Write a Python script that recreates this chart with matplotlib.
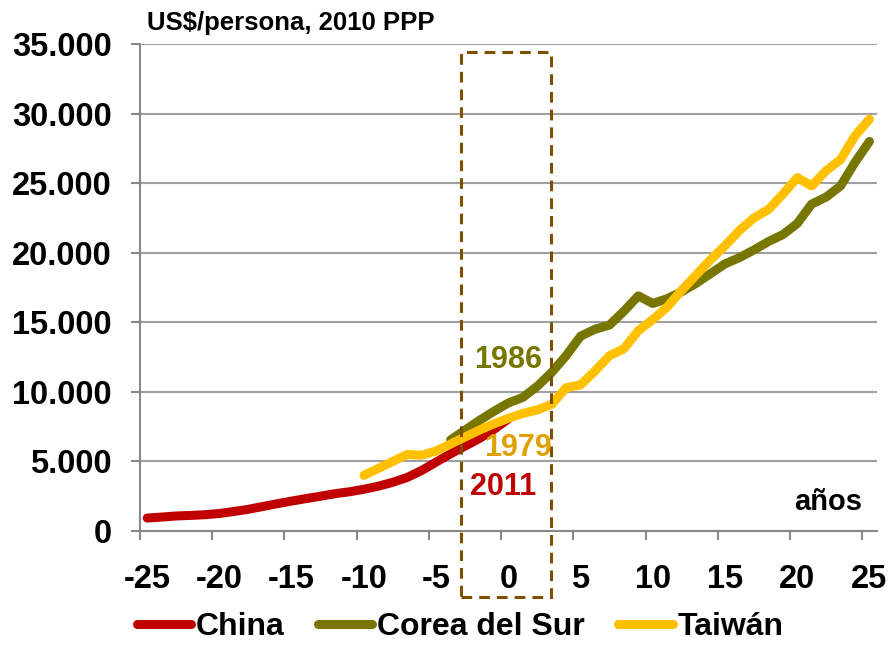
import matplotlib
matplotlib.use("Agg")
import matplotlib.pyplot as plt
from matplotlib.ticker import FixedLocator, FuncFormatter
from matplotlib.patches import Rectangle

plt.rcParams["font.family"] = ["Liberation Sans", "DejaVu Sans"]
plt.rcParams["font.weight"] = "bold"
plt.rcParams["axes.unicode_minus"] = False

# años relativos al punto de referencia (0 = 2011 China, 1979 Taiwán, 1986 Corea)
china_x = list(range(-25, 1))
china_y = [930, 1000, 1080, 1120, 1170, 1260, 1400, 1560, 1760, 1960,
           2150, 2330, 2500, 2680, 2820, 3000, 3220, 3500, 3850, 4350,
           4950, 5550, 6100, 6650, 7300, 8050]

corea_x = list(range(-4, 26))
corea_y = [6550, 7250, 7950, 8600, 9200, 9600, 10400, 11400, 12600, 14000,
           14500, 14800, 15800, 16900, 16350, 16700, 17200, 17800, 18500, 19200,
           19650, 20200, 20800, 21300, 22100, 23500, 24000, 24800, 26500, 28000]

taiwan_x = list(range(-10, 26))
taiwan_y = [4000, 4500, 5000, 5500, 5450, 5750, 6250, 6750, 7250, 7700,
            8100, 8450, 8700, 9100, 10300, 10500, 11500, 12600, 13100, 14400,
            15200, 16100, 17300, 18400, 19500, 20500, 21600, 22500, 23100, 24200,
            25400, 24800, 25900, 26700, 28400, 29600]

series = [
    ("China", china_x, china_y, "#C00000"),
    ("Corea del Sur", corea_x, corea_y, "#767600"),
    ("Taiwán", taiwan_x, taiwan_y, "#FFC000"),
]

annotations = [
    ("1986", 0.0, 12300, "#767600"),
    ("1979", 0.65, 6000, "#E0A000"),
    ("2011", -0.35, 3150, "#C00000"),
]

x_labels = list(range(-25, 26, 5))
y_ticks = list(range(0, 35001, 5000))

fig = plt.figure(figsize=(8.88, 6.45), dpi=100)
ax = fig.add_axes([140 / 888, 1 - 531 / 645, (876.7 - 140) / 888, (531 - 44) / 645])

for name, xs, ys, color in series:
    ax.plot(xs, ys, color=color, lw=6.5, label=name,
            solid_capstyle="round", solid_joinstyle="round", zorder=3)

ax.set_xlim(-25.5, 25.5)
ax.set_ylim(0, 35000)

# categorías con marcas entre ellas (estilo Excel)
ax.xaxis.set_major_locator(FixedLocator(x_labels))
ax.xaxis.set_minor_locator(FixedLocator([v - 0.5 for v in x_labels]))
ax.tick_params(axis="x", which="major", length=0, pad=24, labelsize=23.5)
ax.tick_params(axis="x", which="minor", length=6.5, width=1.5, color="#888888")
ax.set_yticks(y_ticks)
ax.yaxis.set_major_formatter(FuncFormatter(lambda v, p: f"{v:,.0f}".replace(",", ".")))
ax.tick_params(axis="y", length=6.5, width=1.5, color="#888888", pad=14, labelsize=23.5)

ax.grid(axis="y", color="#A0A0A0", lw=1.5)
ax.set_axisbelow(True)
for s in ("top", "right"):
    ax.spines[s].set_visible(False)
for s in ("left", "bottom"):
    ax.spines[s].set_color("#888888")
    ax.spines[s].set_linewidth(1.5)

rect = Rectangle((-3.27, -4740), 6.23, 34411 + 4740, fill=False,
                 edgecolor="#7F4F00", lw=2.2, linestyle=(0, (3.5, 2.3)),
                 clip_on=False, zorder=4)
ax.add_patch(rect)

for txt, x, y, color in annotations:
    ax.text(x, y, txt, color=color, fontsize=22, ha="center", va="center", zorder=5)

ax.text(24.5, 1500, "años", fontsize=21, ha="right", va="baseline")

fig.text(147 / 888, 1 - 30 / 645, "US$/persona, 2010 PPP", fontsize=18.5, va="baseline")

ax.legend(loc="center", bbox_to_anchor=(460 / 888, 1 - 627 / 645),
          bbox_transform=fig.transFigure, ncol=3, frameon=False, fontsize=23,
          handlelength=1.7, handletextpad=0.15, columnspacing=1.05,
          borderaxespad=0, borderpad=0)

fig.savefig("out.png", dpi=100)
